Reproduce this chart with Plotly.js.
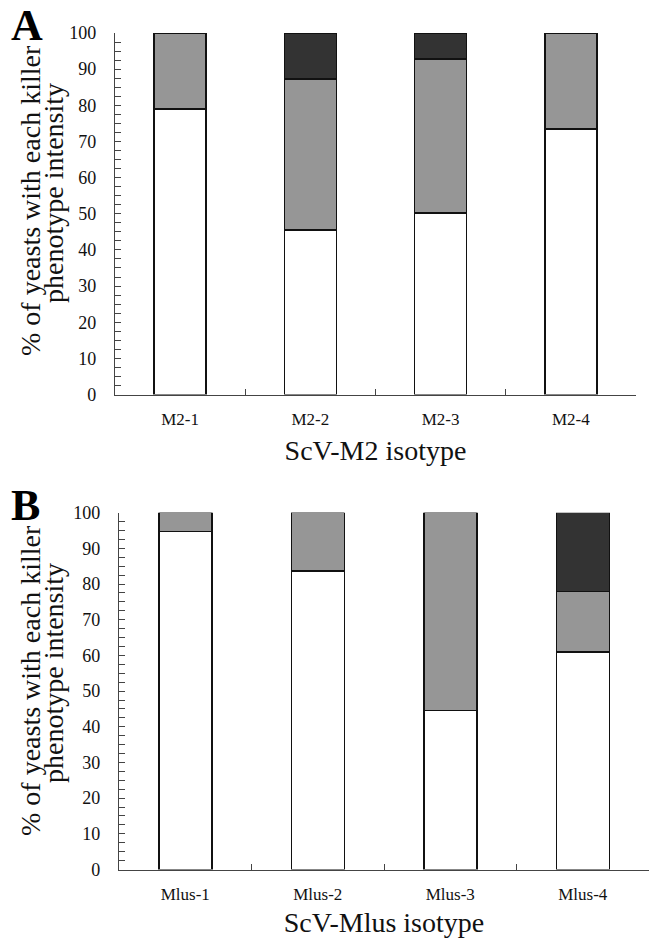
<!DOCTYPE html>
<html>
<head>
<meta charset="utf-8">
<script src="https://cdn.plot.ly/plotly-3.0.1.min.js"></script>
<style>html,body{margin:0;padding:0;background:#fff;}#chart{width:650px;height:938px;}</style>
</head>
<body>
<div id="chart"></div>
<script>
// Panel A: ScV-M2 isotypes
var catsA = ['M2-1', 'M2-2', 'M2-3', 'M2-4'];
var whiteA = [79.0, 45.5, 50.2, 73.4];
var grayA = [21.0, 41.8, 42.6, 26.6];
var darkA = [0, 12.7, 7.2, 0];

// Panel B: ScV-Mlus isotypes
var catsB = ['Mlus-1', 'Mlus-2', 'Mlus-3', 'Mlus-4'];
var whiteB = [94.7, 83.7, 44.6, 61.0];
var grayB = [5.3, 16.3, 55.4, 16.9];
var darkB = [0, 0, 0, 22.1];

var yTicks = [0, 10, 20, 30, 40, 50, 60, 70, 80, 90, 100];
var titleA = 'ScV-M2 isotype';
var titleB = 'ScV-Mlus isotype';
var yLine1 = '% of yeasts with each killer';
var yLine2 = 'phenotype intensity';

var W = 650, H = 938;
var serif = "'Liberation Serif'";
var colors = ['#ffffff', '#969696', '#333333'];
var names = ['weak', 'medium', 'strong'];

function barTraces(cats, series, xa, ya) {
  return series.map(function (vals, i) {
    return {
      type: 'bar', x: cats, y: vals, xaxis: xa, yaxis: ya,
      name: names[i], showlegend: false,
      marker: {color: colors[i], line: {color: '#111', width: 1.5}}
    };
  });
}

var data = [].concat(
  barTraces(catsA, [whiteA, grayA, darkA], 'x', 'y'),
  barTraces(catsB, [whiteB, grayB, darkB], 'x2', 'y2')
);

function px2fx(px) { return px / W; }
function py2fy(py) { return 1 - py / H; }

function xAxis(domain, title, anchor) {
  return {
    domain: domain, anchor: anchor, type: 'category',
    showline: true, linecolor: '#444', linewidth: 1.2,
    ticks: 'inside', tickson: 'boundaries', ticklen: 6, tickcolor: '#444', tickwidth: 1,
    tickfont: {family: serif, size: 17, color: '#111'},
    ticklabelstandoff: 9,
    showgrid: false, zeroline: false, fixedrange: true,
    title: {text: title, font: {family: serif, size: 28, color: '#111'}, standoff: 12}
  };
}
function yAxis(domain, anchor) {
  return {
    domain: domain, anchor: anchor, range: [0, 100],
    tickvals: yTicks,
    showline: true, linecolor: '#444', linewidth: 1.2,
    ticks: 'inside', ticklen: 6, tickcolor: '#444', tickwidth: 1,
    minor: {dtick: 2.5, ticks: 'inside', ticklen: 6, tickcolor: '#444', tickwidth: 1, showgrid: false},
    tickfont: {family: serif, size: 18, color: '#111'},
    ticklabelstandoff: 14,
    showgrid: false, zeroline: false, fixedrange: true
  };
}

function yTitle(text, xpx, ypx) {
  return {text: text, xref: 'paper', yref: 'paper', x: px2fx(xpx), y: py2fy(ypx),
    xanchor: 'center', yanchor: 'middle', textangle: -90, showarrow: false,
    font: {family: serif, size: 28, color: '#111'}};
}

var layout = {
  width: W, height: H,
  margin: {l: 0, r: 0, t: 0, b: 0},
  paper_bgcolor: '#fff', plot_bgcolor: 'rgba(0,0,0,0)',
  barmode: 'stack', bargap: 0.6,
  showlegend: false,
  font: {family: serif},
  xaxis: xAxis([px2fx(115), px2fx(636)], titleA, 'y'),
  yaxis: yAxis([py2fy(394.5), py2fy(33)], 'x'),
  xaxis2: xAxis([px2fx(119), px2fx(649)], titleB, 'y2'),
  yaxis2: yAxis([py2fy(869.5), py2fy(512.7)], 'x2'),
  annotations: [
    {text: '<b>A</b>', xref: 'paper', yref: 'paper', x: px2fx(9), y: py2fy(-1), xanchor: 'left', yanchor: 'top', showarrow: false, font: {family: serif, size: 44, color: '#000'}},
    {text: '<b>B</b>', xref: 'paper', yref: 'paper', x: px2fx(9), y: py2fy(479), xanchor: 'left', yanchor: 'top', showarrow: false, font: {family: serif, size: 44, color: '#000'}},
    yTitle(yLine1, 30, 201),
    yTitle(yLine2, 53, 193),
    yTitle(yLine1, 30, 681),
    yTitle(yLine2, 53, 673)
  ]
};

Plotly.newPlot('chart', data, layout, {displayModeBar: false, staticPlot: true});
</script>
</body>
</html>
